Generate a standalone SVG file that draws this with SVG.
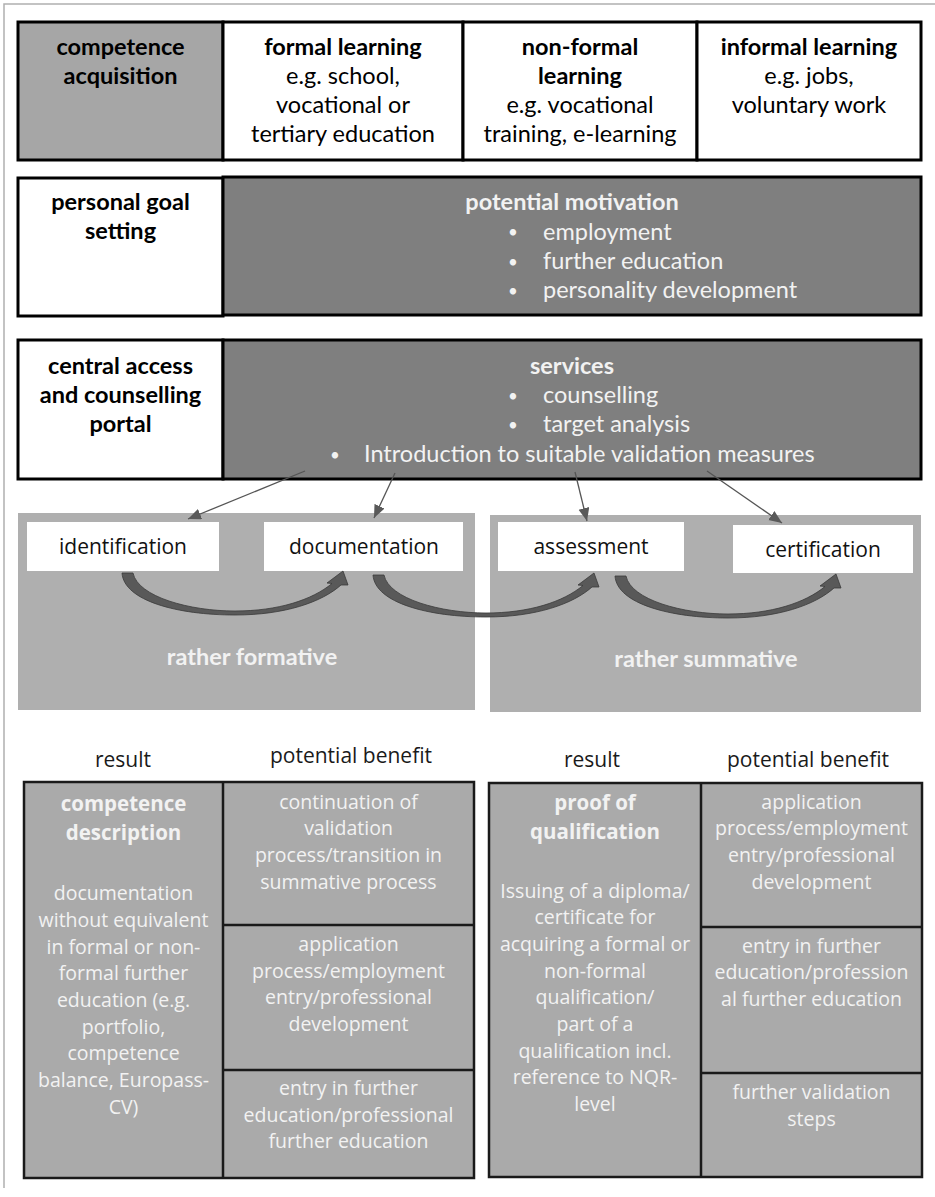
<svg xmlns="http://www.w3.org/2000/svg" width="935" height="1197" viewBox="0 0 935 1197">
<style>
.t{font-family:Lato,"Open Sans","DejaVu Sans",sans-serif;font-size:23.5px;fill:#000;text-anchor:middle}
.tb{font-weight:bold}
.w{fill:#f2f2f2}
.l{text-anchor:start}
.bu{font-size:17px}
.o{font-family:"Open Sans","DejaVu Sans",sans-serif;font-size:19.5px;fill:#f2f2f2;text-anchor:middle}
.ob{font-weight:bold;font-size:20.5px}
.h{font-family:"Open Sans","DejaVu Sans",sans-serif;font-size:21px;fill:#1a1a1a;text-anchor:middle}
.n{font-family:"Open Sans","DejaVu Sans",sans-serif;font-size:21px;fill:#111;text-anchor:middle}
.bx{stroke:#000;stroke-width:3}
.bt{stroke:#1a1a1a;stroke-width:2.5;fill:#aaaaaa}
.cv{fill:#595959;stroke:#3a3a3a;stroke-width:0.8}
.ln{stroke:#555;stroke-width:1.3;fill:none}
</style>
<defs>
<marker id="ah" markerUnits="userSpaceOnUse" markerWidth="14" markerHeight="12" refX="13" refY="5.5" orient="auto">
<path d="M0,0 L13,5.5 L0,11 z" fill="#595959"/>
</marker>
<path id="curve" d="M122,573 C124,601 178,615 235,615 C285,615 322,602 341,585 L348,585 L343,571 L327,583 L332,583.5 C312,600 278,611 235,611 C190,611 138,597 133,573 Z"/>
</defs>
<rect width="935" height="1197" fill="#fff"/>
<g id="frame">
<path d="M4,1188 L4,4 L935,4" fill="none" stroke="#b0b0b0" stroke-width="1.5"/>
</g>

<g id="row-acquisition">
<rect x="18" y="22" width="205" height="138" fill="#a6a6a6" class="bx"/>
<rect x="223" y="22" width="240" height="138" fill="#fff" class="bx"/>
<rect x="463" y="22" width="234" height="138" fill="#fff" class="bx"/>
<rect x="697" y="22" width="224" height="138" fill="#fff" class="bx"/>
<text class="t tb" x="120.5" y="55">competence</text>
<text class="t tb" x="120.5" y="84">acquisition</text>
<text class="t tb" x="343" y="55">formal learning</text>
<text class="t" x="343" y="84">e.g. school,</text>
<text class="t" x="343" y="113">vocational or</text>
<text class="t" x="343" y="142">tertiary education</text>
<text class="t tb" x="580" y="55">non-formal</text>
<text class="t tb" x="580" y="84">learning</text>
<text class="t" x="580" y="113">e.g. vocational</text>
<text class="t" x="580" y="142">training, e-learning</text>
<text class="t tb" x="809" y="55">informal learning</text>
<text class="t" x="809" y="84">e.g. jobs,</text>
<text class="t" x="809" y="113">voluntary work</text>
</g>

<g id="row-goal">
<rect x="18" y="178" width="205" height="138" fill="#fff" class="bx"/>
<rect x="223" y="177" width="698" height="138" fill="#7f7f7f" class="bx"/>
<text class="t tb" x="120.5" y="210">personal goal</text>
<text class="t tb" x="120.5" y="239">setting</text>
<text class="t tb w" x="572" y="210">potential motivation</text>
<text class="t w bu" x="513" y="238">•</text><text class="t w l" x="543" y="239.5">employment</text>
<text class="t w bu" x="513" y="267.5">•</text><text class="t w l" x="543" y="269">further education</text>
<text class="t w bu" x="513" y="296.5">•</text><text class="t w l" x="543" y="298">personality development</text>
</g>

<g id="row-portal">
<rect x="18" y="340" width="205" height="139" fill="#fff" class="bx"/>
<rect x="223" y="340" width="698" height="139" fill="#7f7f7f" class="bx"/>
<text class="t tb" x="120.5" y="374">central access</text>
<text class="t tb" x="120.5" y="403">and counselling</text>
<text class="t tb" x="120.5" y="432">portal</text>
<text class="t tb w" x="572" y="374">services</text>
<text class="t w bu" x="513" y="401.5">•</text><text class="t w l" x="543" y="403">counselling</text>
<text class="t w bu" x="513" y="430.5">•</text><text class="t w l" x="543" y="432">target analysis</text>
<text class="t w bu" x="335" y="460.5">•</text><text class="t w l" x="364" y="462">Introduction to suitable validation measures</text>
</g>

<g id="panel-formative">
<rect x="18" y="513" width="457" height="197" fill="#afafaf"/>
<text class="t tb w" x="252" y="665">rather formative</text>
</g>
<g id="panel-summative">
<rect x="490" y="515" width="431" height="197" fill="#afafaf"/>
<text class="t tb w" x="706" y="667">rather summative</text>
</g>

<g id="node-identification">
<rect x="27" y="522" width="192" height="49" fill="#fff"/>
<text class="n" x="123" y="554">identification</text>
</g>
<g id="node-documentation">
<rect x="264" y="522" width="199" height="49" fill="#fff"/>
<text class="n" x="364" y="554">documentation</text>
</g>
<g id="node-assessment">
<rect x="498" y="522" width="186" height="49" fill="#fff"/>
<text class="n" x="591" y="554">assessment</text>
</g>
<g id="node-certification">
<rect x="733" y="525" width="180" height="48" fill="#fff"/>
<text class="n" x="823" y="557">certification</text>
</g>

<g id="connectors">
<line class="ln" x1="305" y1="471" x2="188" y2="519" marker-end="url(#ah)"/>
<line class="ln" x1="395" y1="473" x2="374" y2="518" marker-end="url(#ah)"/>
<line class="ln" x1="575" y1="472" x2="587" y2="521" marker-end="url(#ah)"/>
<line class="ln" x1="707" y1="471" x2="782" y2="523" marker-end="url(#ah)"/>
<use href="#curve" class="cv"/>
<use href="#curve" class="cv" transform="translate(251,2)"/>
<use href="#curve" class="cv" transform="translate(493,3)"/>
</g>

<g id="headers">
<text class="h" x="123" y="767">result</text>
<text class="h" x="351" y="763">potential benefit</text>
<text class="h" x="592" y="767">result</text>
<text class="h" x="808" y="767">potential benefit</text>
</g>

<g id="table-formative">
<rect class="bt" x="24" y="782" width="450" height="396"/>
<line x1="223" y1="782" x2="223" y2="1178" stroke="#1a1a1a" stroke-width="2.5"/>
<line x1="223" y1="925" x2="474" y2="925" stroke="#1a1a1a" stroke-width="2.5"/>
<line x1="223" y1="1070" x2="474" y2="1070" stroke="#1a1a1a" stroke-width="2.5"/>
<text class="o ob" x="123.5" y="811">competence</text>
<text class="o ob" x="123.5" y="840">description</text>
<text class="o" x="123.5" y="900">documentation</text>
<text class="o" x="123.5" y="927">without equivalent</text>
<text class="o" x="123.5" y="954">in formal or non-</text>
<text class="o" x="123.5" y="980">formal further</text>
<text class="o" x="123.5" y="1007">education (e.g.</text>
<text class="o" x="123.5" y="1034">portfolio,</text>
<text class="o" x="123.5" y="1060">competence</text>
<text class="o" x="123.5" y="1087">balance, Europass-</text>
<text class="o" x="123.5" y="1114">CV)</text>
<text class="o" x="348.5" y="809">continuation of</text>
<text class="o" x="348.5" y="835">validation</text>
<text class="o" x="348.5" y="862">process/transition in</text>
<text class="o" x="348.5" y="889">summative process</text>
<text class="o" x="348.5" y="951">application</text>
<text class="o" x="348.5" y="978">process/employment</text>
<text class="o" x="348.5" y="1004">entry/professional</text>
<text class="o" x="348.5" y="1031">development</text>
<text class="o" x="348.5" y="1095">entry in further</text>
<text class="o" x="348.5" y="1122">education/professional</text>
<text class="o" x="348.5" y="1148">further education</text>
</g>

<g id="table-summative">
<rect class="bt" x="489" y="783" width="433" height="394"/>
<line x1="701" y1="783" x2="701" y2="1177" stroke="#1a1a1a" stroke-width="2.5"/>
<line x1="701" y1="927" x2="922" y2="927" stroke="#1a1a1a" stroke-width="2.5"/>
<line x1="701" y1="1073" x2="922" y2="1073" stroke="#1a1a1a" stroke-width="2.5"/>
<text class="o ob" x="595" y="810">proof of</text>
<text class="o ob" x="595" y="839">qualification</text>
<text class="o" x="595" y="898">Issuing of a diploma/</text>
<text class="o" x="595" y="924">certificate for</text>
<text class="o" x="595" y="951">acquiring a formal or</text>
<text class="o" x="595" y="978">non-formal</text>
<text class="o" x="595" y="1004">qualification/</text>
<text class="o" x="595" y="1031">part of a</text>
<text class="o" x="595" y="1058">qualification incl.</text>
<text class="o" x="595" y="1084">reference to NQR-</text>
<text class="o" x="595" y="1111">level</text>
<text class="o" x="811.5" y="809">application</text>
<text class="o" x="811.5" y="835">process/employment</text>
<text class="o" x="811.5" y="862">entry/professional</text>
<text class="o" x="811.5" y="889">development</text>
<text class="o" x="811.5" y="953">entry in further</text>
<text class="o" x="811.5" y="979">education/profession</text>
<text class="o" x="811.5" y="1006">al further education</text>
<text class="o" x="811.5" y="1099">further validation</text>
<text class="o" x="811.5" y="1126">steps</text>
</g>
</svg>
